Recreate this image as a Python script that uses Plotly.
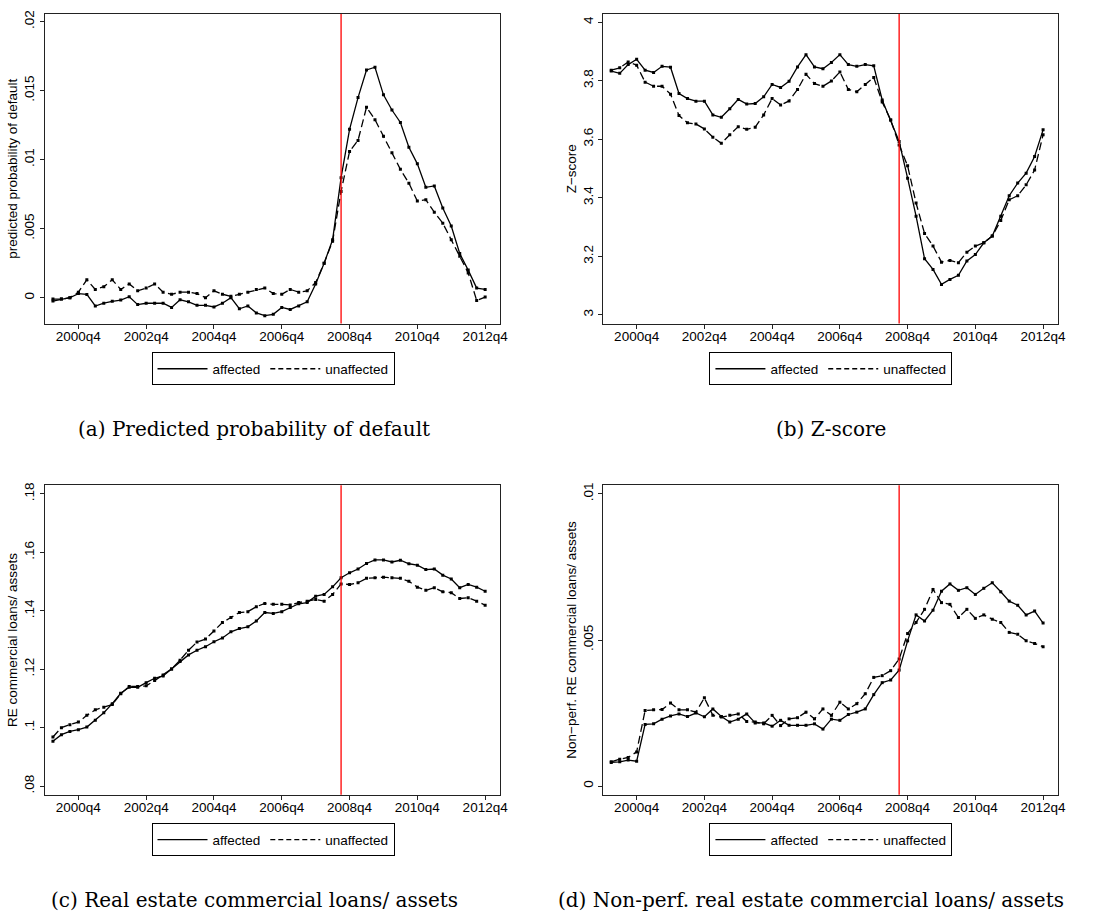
import plotly.graph_objects as go

# ---------------- data ----------------
years = list(range(2000, 2013))
quarters = [f"{y}q{q}" for y in years for q in range(1, 5)]  # 2000q1 .. 2012q4
xpos = [int(s[:4]) + (int(s[-1]) - 1) / 4 for s in quarters]

tick_labels = ["2000q4", "2002q4", "2004q4", "2006q4", "2008q4", "2010q4", "2012q4"]
event_quarter = "2008q3"

pd_aff = [-0.00024, -0.0001, 0.0, 0.0003, 0.00024, -0.0006, -0.0004, -0.00026, -0.00017, 0.00007,
          -0.0005, -0.0004, -0.0004, -0.0004, -0.0007, -0.00015, -0.0003, -0.00055, -0.00055, -0.00067,
          -0.0004, 0.0, -0.0008, -0.0006, -0.0011, -0.0013, -0.0012, -0.0007, -0.00085, -0.0006,
          -0.0003, 0.001, 0.0025, 0.0042, 0.0087, 0.0122, 0.0145, 0.0165, 0.0167, 0.0147,
          0.0136, 0.0127, 0.0109, 0.0097, 0.0080, 0.0081, 0.0065, 0.0052, 0.0032, 0.0020,
          0.0007, 0.0006]
pd_unaff = [-0.0001, -0.0001, 0.0, 0.0004, 0.0013, 0.0006, 0.0008, 0.0013, 0.0006, 0.0010,
            0.0005, 0.0007, 0.0010, 0.0004, 0.00025, 0.0004, 0.0004, 0.0003, 0.0, 0.0005,
            0.00025, 0.0001, 0.00025, 0.0004, 0.0006, 0.0007, 0.0003, 0.00025, 0.0006, 0.0004,
            0.0005, 0.0011, 0.0025, 0.0041, 0.0077, 0.0106, 0.0114, 0.0138, 0.0129, 0.0117,
            0.0105, 0.0093, 0.0083, 0.0070, 0.0071, 0.0062, 0.0054, 0.0042, 0.0030, 0.0018,
            -0.0002, 0.00005]

z_aff = [3.833, 3.825, 3.855, 3.873, 3.836, 3.828, 3.849, 3.846, 3.756, 3.739,
         3.730, 3.730, 3.683, 3.675, 3.704, 3.736, 3.720, 3.722, 3.745, 3.787,
         3.777, 3.798, 3.847, 3.889, 3.847, 3.841, 3.862, 3.889, 3.855, 3.849,
         3.855, 3.851, 3.734, 3.666, 3.592, 3.467, 3.337, 3.192, 3.155, 3.104,
         3.121, 3.135, 3.184, 3.206, 3.246, 3.269, 3.337, 3.407, 3.450, 3.484,
         3.541, 3.632]
z_unaff = [3.836, 3.844, 3.864, 3.853, 3.795, 3.781, 3.781, 3.754, 3.681, 3.656,
           3.652, 3.635, 3.607, 3.586, 3.615, 3.643, 3.634, 3.641, 3.683, 3.739,
           3.717, 3.731, 3.770, 3.822, 3.790, 3.781, 3.799, 3.830, 3.770, 3.762,
           3.787, 3.811, 3.727, 3.666, 3.580, 3.509, 3.382, 3.278, 3.235, 3.180,
           3.186, 3.178, 3.214, 3.235, 3.246, 3.269, 3.322, 3.393, 3.407, 3.444,
           3.495, 3.615]

re_aff = [0.0953, 0.0976, 0.0987, 0.0993, 0.1002, 0.1025, 0.1051, 0.1082, 0.1118, 0.1138,
          0.1138, 0.1154, 0.1169, 0.1177, 0.1201, 0.1226, 0.1249, 0.1265, 0.1277, 0.1294,
          0.1307, 0.1328, 0.1339, 0.1345, 0.1365, 0.1394, 0.1391, 0.1397, 0.1411, 0.1424,
          0.1428, 0.1450, 0.1456, 0.1482, 0.1513, 0.1530, 0.1543, 0.1562, 0.1574, 0.1574,
          0.1567, 0.1573, 0.1561, 0.1556, 0.1541, 0.1543, 0.1522, 0.1509, 0.1479, 0.1490,
          0.1481, 0.1467]
re_unaff = [0.0968, 0.1000, 0.1010, 0.1019, 0.1042, 0.1061, 0.1070, 0.1079, 0.1116, 0.1141,
            0.1141, 0.1143, 0.1161, 0.1180, 0.1201, 0.1231, 0.1265, 0.1293, 0.1303, 0.1331,
            0.1360, 0.1377, 0.1394, 0.1397, 0.1414, 0.1425, 0.1422, 0.1422, 0.1420, 0.1428,
            0.1433, 0.1439, 0.1433, 0.1456, 0.1492, 0.1490, 0.1496, 0.1511, 0.1513, 0.1515,
            0.1513, 0.1511, 0.1501, 0.1481, 0.1470, 0.1479, 0.1465, 0.1462, 0.1442, 0.1445,
            0.1433, 0.1419]

np_aff = [0.00081, 0.00083, 0.00089, 0.00085, 0.00211, 0.00213, 0.00229, 0.00240, 0.00247, 0.00238,
          0.00250, 0.00237, 0.00264, 0.00238, 0.00219, 0.00229, 0.00247, 0.00216, 0.00216, 0.00205,
          0.00225, 0.00208, 0.00208, 0.00208, 0.00213, 0.00195, 0.00229, 0.00225, 0.00245, 0.00253,
          0.00264, 0.00313, 0.00354, 0.00363, 0.00397, 0.00497, 0.00586, 0.00565, 0.00602, 0.00667,
          0.00692, 0.00670, 0.00679, 0.00656, 0.00677, 0.00696, 0.00665, 0.00633, 0.00619, 0.00586,
          0.00599, 0.00558]
np_unaff = [0.00083, 0.00092, 0.00098, 0.00117, 0.00259, 0.00261, 0.00262, 0.00284, 0.00261, 0.00261,
            0.00253, 0.00302, 0.00242, 0.00236, 0.00242, 0.00247, 0.00221, 0.00219, 0.00213, 0.00242,
            0.00207, 0.00230, 0.00234, 0.00253, 0.00230, 0.00264, 0.00242, 0.00287, 0.00264, 0.00282,
            0.00316, 0.00372, 0.00378, 0.00395, 0.00435, 0.00522, 0.00560, 0.00605, 0.00673, 0.00628,
            0.00622, 0.00577, 0.00605, 0.00574, 0.00586, 0.00571, 0.00560, 0.00526, 0.00520, 0.00497,
            0.00488, 0.00477]

series_names = ["affected", "unaffected"]

panels = [
    dict(aff=pd_aff, unaff=pd_unaff, ytitle="predicted probability of default",
         yticks=[0, 0.005, 0.01, 0.015, 0.02], ylabels=["0", ".005", ".01", ".015", ".02"],
         yrange=[-0.001875, 0.02056], caption="(a) Predicted probability of default"),
    dict(aff=z_aff, unaff=z_unaff, ytitle="Z\u2212score",
         yticks=[3, 3.2, 3.4, 3.6, 3.8, 4], ylabels=["3", "3.2", "3.4", "3.6", "3.8", "4"],
         yrange=[2.970, 4.028], caption="(b) Z-score"),
    dict(aff=re_aff, unaff=re_unaff, ytitle="RE commercial loans/ assets",
         yticks=[0.08, 0.10, 0.12, 0.14, 0.16, 0.18], ylabels=[".08", ".1", ".12", ".14", ".16", ".18"],
         yrange=[0.0770, 0.1830], caption="(c) Real estate commercial loans/ assets"),
    dict(aff=np_aff, unaff=np_unaff, ytitle="Non\u2212perf. RE commercial loans/ assets",
         yticks=[0, 0.005, 0.01], ylabels=["0", ".005", ".01"],
         yrange=[-0.00030, 0.01030], caption="(d) Non-perf. real estate commercial loans/ assets"),
]

# ---------------- layout helpers ----------------
W, H = 1102, 912
def px_x(a, b):
    return [a / W, b / W]
def px_y(top, bottom):
    return [1 - bottom / H, 1 - top / H]

xdoms = [px_x(45.3, 504), px_x(607.7, 1066), px_x(45.3, 504), px_x(607.7, 1066)]
ydoms = [px_y(10, 321), px_y(10, 321), px_y(483.3, 794.3), px_y(483.3, 794.3)]
legend_pos = [(275, 350), (837, 350), (275, 823), (837, 823)]
caption_pos = [(256, 427), (837, 427), (256, 900), (817, 900)]

def qpos(label):
    return int(label[:4]) + (int(label[-1]) - 1) / 4

tickvals_x = [qpos(t) for t in tick_labels]
xrange_ = [1999.765, 2013.198]

fig = go.Figure()
axis_font = dict(family="Liberation Sans, Arial, sans-serif", size=13.5, color="black")
DASH = "8px,4px"

for i, p in enumerate(panels):
    n = i + 1
    xa = "x" if n == 1 else f"x{n}"
    ya = "y" if n == 1 else f"y{n}"
    leg = "legend" if n == 1 else f"legend{n}"
    for name, vals, dash in [(series_names[0], p["aff"], "solid"), (series_names[1], p["unaff"], DASH)]:
        fig.add_trace(go.Scatter(
            x=xpos, y=vals, name=name, mode="lines+markers",
            line=dict(color="black", width=1.3, dash=dash),
            marker=dict(color="black", size=3, symbol="square"),
            xaxis=xa, yaxis=ya, showlegend=False,
        ))
        # legend-only entry (line sample without markers)
        fig.add_trace(go.Scatter(
            x=[None], y=[None], name=name, mode="lines",
            line=dict(color="black", width=1.3, dash="5px,3px" if dash != "solid" else "solid"),
            xaxis=xa, yaxis=ya, legend=leg, showlegend=True, hoverinfo="skip",
        ))
    fig.layout[f"xaxis{'' if n == 1 else n}"] = dict(
        domain=xdoms[i], anchor=ya, range=xrange_, tickvals=tickvals_x, ticktext=tick_labels,
        showline=True, linecolor="#222", linewidth=1.2, mirror=True,
        ticks="outside", ticklen=4, tickcolor="#222", showgrid=False, zeroline=False,
        tickfont=axis_font, ticklabelstandoff=-4,
    )
    fig.layout[f"yaxis{'' if n == 1 else n}"] = dict(
        domain=ydoms[i], anchor=xa, range=p["yrange"], tickvals=p["yticks"], ticktext=p["ylabels"],
        tickangle=-90, showline=True, linecolor="#222", linewidth=1.2, mirror=True,
        ticks="outside", ticklen=4, tickcolor="#222", showgrid=False, zeroline=False,
        tickfont=axis_font,
        title=dict(text=p["ytitle"], font=axis_font, standoff=1),
    )
    # event line
    fig.add_shape(type="line", xref=xa, yref=f"{ya} domain",
                  x0=qpos(event_quarter), x1=qpos(event_quarter), y0=0, y1=1,
                  line=dict(color="#ff0000", width=1.3), layer="above")
    lx, ly = legend_pos[i]
    fig.layout[leg] = dict(
        x=lx / W, y=1 - ly / H, xanchor="center", yanchor="top", orientation="h",
        bordercolor="black", borderwidth=1, bgcolor="white", itemwidth=50,
        font=dict(family="Liberation Sans, Arial, sans-serif", size=13.5, color="black"),
        tracegroupgap=0, itemclick=False, itemdoubleclick=False,
    )
    cx, cy = caption_pos[i]
    fig.add_annotation(x=cx / W, y=1 - cy / H, xref="paper", yref="paper",
                       text=p["caption"], showarrow=False, xanchor="center", yanchor="middle",
                       font=dict(family="DejaVu Serif, serif", size=20, color="black"))

fig.update_layout(
    width=W, height=H, margin=dict(l=0, r=0, t=0, b=0),
    paper_bgcolor="white", plot_bgcolor="white",
)

fig.write_html("out.html", config={"displayModeBar": False},
               post_script="document.body.style.margin='0';")
